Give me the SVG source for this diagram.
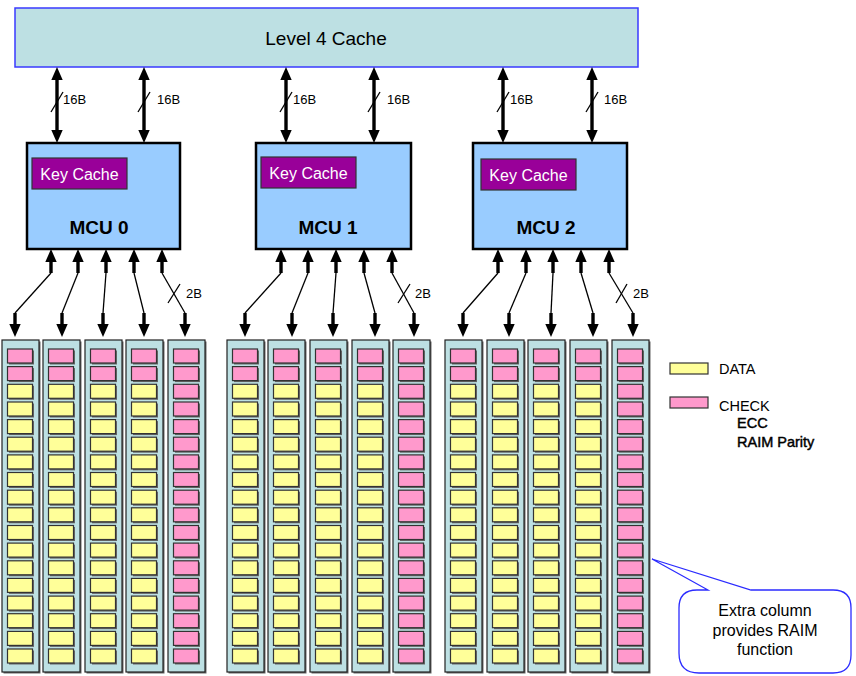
<svg xmlns="http://www.w3.org/2000/svg" xmlns:xlink="http://www.w3.org/1999/xlink" width="856" height="676" viewBox="0 0 856 676">
<style>
text{font-family:"Liberation Sans",Arial,sans-serif;fill:#000}
.l4{fill:#bde0e3;stroke:#3a3aff;stroke-width:1.5}
.mcu{fill:#99ccff;stroke:#000;stroke-width:2.5}
.kc{fill:#990099;stroke:#333;stroke-width:1.2}
.kct{fill:#fff;font-size:16px;text-anchor:middle}
.mt{font-size:19px;font-weight:bold;text-anchor:middle}
.col{fill:#bde0e3;stroke:#222;stroke-width:1.2}
.sh{fill:#666}
.y{fill:#ffff99;stroke:#333;stroke-width:1.2}
.p{fill:#ff99cc;stroke:#333;stroke-width:1.2}
.thick{stroke:#000;stroke-width:3.4;fill:none}
.thin{stroke:#000;stroke-width:1.3;fill:none}
.lab{font-size:13px}
.leg{font-size:14.5px}
.legb{font-size:14.5px;stroke:#000;stroke-width:0.45}
.call{fill:#fff;stroke:#2b2bff;stroke-width:1.3}
.ct{font-size:16px;text-anchor:middle}
</style>
<defs>
<marker id="ah" markerUnits="userSpaceOnUse" markerWidth="13" markerHeight="12" viewBox="0 0 13 12" refX="5" refY="6" orient="auto-start-reverse"><path d="M0,0.3 L13,6 L0,11.7 z" fill="#000"/></marker>
<g id="cy"><rect class="sh" x="7" y="1.5" width="25" height="14"/><rect class="y" x="5.5" y="0" width="25" height="14"/></g>
<g id="cp"><rect class="sh" x="7" y="1.5" width="25" height="14"/><rect class="p" x="5.5" y="0" width="25" height="14"/></g>
<g id="colbg"><rect class="sh" x="1.5" y="1.5" width="37" height="332"/><rect class="col" x="0" y="0" width="37" height="332"/></g>
<g id="dcol">
<use xlink:href="#colbg"/>
<use xlink:href="#cp" y="9"/>
<use xlink:href="#cp" y="26.6"/>
<use xlink:href="#cy" y="44.3"/>
<use xlink:href="#cy" y="62"/>
<use xlink:href="#cy" y="79.6"/>
<use xlink:href="#cy" y="97.2"/>
<use xlink:href="#cy" y="114.9"/>
<use xlink:href="#cy" y="132.5"/>
<use xlink:href="#cy" y="150.2"/>
<use xlink:href="#cy" y="167.8"/>
<use xlink:href="#cy" y="185.5"/>
<use xlink:href="#cy" y="203.1"/>
<use xlink:href="#cy" y="220.8"/>
<use xlink:href="#cy" y="238.4"/>
<use xlink:href="#cy" y="256.1"/>
<use xlink:href="#cy" y="273.7"/>
<use xlink:href="#cy" y="291.4"/>
<use xlink:href="#cy" y="309"/>
</g>
<g id="ccol">
<use xlink:href="#colbg"/>
<use xlink:href="#cp" y="9"/>
<use xlink:href="#cp" y="26.6"/>
<use xlink:href="#cp" y="44.3"/>
<use xlink:href="#cp" y="62"/>
<use xlink:href="#cp" y="79.6"/>
<use xlink:href="#cp" y="97.2"/>
<use xlink:href="#cp" y="114.9"/>
<use xlink:href="#cp" y="132.5"/>
<use xlink:href="#cp" y="150.2"/>
<use xlink:href="#cp" y="167.8"/>
<use xlink:href="#cp" y="185.5"/>
<use xlink:href="#cp" y="203.1"/>
<use xlink:href="#cp" y="220.8"/>
<use xlink:href="#cp" y="238.4"/>
<use xlink:href="#cp" y="256.1"/>
<use xlink:href="#cp" y="273.7"/>
<use xlink:href="#cp" y="291.4"/>
<use xlink:href="#cp" y="309"/>
</g>
</defs>
<rect width="856" height="676" fill="#fff"/>

<g id="l4cache">
<rect class="l4" x="15" y="8" width="623" height="59"/>
<text x="326" y="45" font-size="19" text-anchor="middle">Level 4 Cache</text>
</g>

<g id="mcu0">
<rect class="mcu" x="27" y="143" width="153" height="106"/>
<rect class="kc" x="32" y="158" width="95" height="31"/>
<text class="kct" x="79.5" y="179.5">Key Cache</text>
<text class="mt" x="99" y="234">MCU 0</text>
</g>
<g id="mcu1">
<rect class="mcu" x="256" y="143" width="155" height="106"/>
<rect class="kc" x="261" y="157" width="95" height="31"/>
<text class="kct" x="308.5" y="178.5">Key Cache</text>
<text class="mt" x="328" y="234">MCU 1</text>
</g>
<g id="mcu2">
<rect class="mcu" x="473" y="143" width="154" height="106"/>
<rect class="kc" x="481" y="159" width="95" height="31"/>
<text class="kct" x="528.5" y="180.5">Key Cache</text>
<text class="mt" x="546" y="234">MCU 2</text>
</g>

<g id="bank0">
<use xlink:href="#dcol" x="2" y="340"/>
<use xlink:href="#dcol" x="43" y="340"/>
<use xlink:href="#dcol" x="85" y="340"/>
<use xlink:href="#dcol" x="126" y="340"/>
<use xlink:href="#ccol" x="168" y="340"/>
</g>
<g id="bank1">
<use xlink:href="#dcol" x="227" y="340"/>
<use xlink:href="#dcol" x="268" y="340"/>
<use xlink:href="#dcol" x="310" y="340"/>
<use xlink:href="#dcol" x="352" y="340"/>
<use xlink:href="#ccol" x="393" y="340"/>
</g>
<g id="bank2">
<use xlink:href="#dcol" x="445" y="340"/>
<use xlink:href="#dcol" x="487" y="340"/>
<use xlink:href="#dcol" x="528" y="340"/>
<use xlink:href="#dcol" x="570" y="340"/>
<use xlink:href="#ccol" x="612" y="340"/>
</g>

<g id="connectors">
<line class="thick" x1="57" y1="75" x2="57" y2="135" marker-start="url(#ah)" marker-end="url(#ah)"/>
<line class="thick" x1="144" y1="75" x2="144" y2="135" marker-start="url(#ah)" marker-end="url(#ah)"/>
<line class="thick" x1="286" y1="75" x2="286" y2="135" marker-start="url(#ah)" marker-end="url(#ah)"/>
<line class="thick" x1="374" y1="75" x2="374" y2="135" marker-start="url(#ah)" marker-end="url(#ah)"/>
<line class="thick" x1="503" y1="75" x2="503" y2="135" marker-start="url(#ah)" marker-end="url(#ah)"/>
<line class="thick" x1="592" y1="75" x2="592" y2="135" marker-start="url(#ah)" marker-end="url(#ah)"/>
<line class="thin" x1="51" y1="112" x2="63" y2="92"/>
<line class="thin" x1="138" y1="112" x2="150" y2="92"/>
<line class="thin" x1="280" y1="112" x2="292" y2="92"/>
<line class="thin" x1="368" y1="112" x2="380" y2="92"/>
<line class="thin" x1="497" y1="112" x2="509" y2="92"/>
<line class="thin" x1="586" y1="112" x2="598" y2="92"/>
<text class="lab" x="63" y="104">16B</text>
<text class="lab" x="157" y="104">16B</text>
<text class="lab" x="293" y="104">16B</text>
<text class="lab" x="387" y="104">16B</text>
<text class="lab" x="510" y="104">16B</text>
<text class="lab" x="604" y="104">16B</text>

<g>
<line class="thick" x1="51" y1="273" x2="51" y2="257" marker-end="url(#ah)"/><line class="thin" x1="51" y1="273" x2="15" y2="313"/><line class="thick" x1="15" y1="313" x2="15" y2="329" marker-end="url(#ah)"/>
<line class="thick" x1="78" y1="273" x2="78" y2="257" marker-end="url(#ah)"/><line class="thin" x1="78" y1="273" x2="62" y2="313"/><line class="thick" x1="62" y1="313" x2="62" y2="329" marker-end="url(#ah)"/>
<line class="thick" x1="106" y1="273" x2="106" y2="257" marker-end="url(#ah)"/><line class="thin" x1="106" y1="273" x2="103" y2="313"/><line class="thick" x1="103" y1="313" x2="103" y2="329" marker-end="url(#ah)"/>
<line class="thick" x1="134" y1="273" x2="134" y2="257" marker-end="url(#ah)"/><line class="thin" x1="134" y1="273" x2="144" y2="313"/><line class="thick" x1="144" y1="313" x2="144" y2="329" marker-end="url(#ah)"/>
<line class="thick" x1="162" y1="273" x2="162" y2="257" marker-end="url(#ah)"/><line class="thin" x1="162" y1="273" x2="185" y2="313"/><line class="thick" x1="185" y1="313" x2="185" y2="329" marker-end="url(#ah)"/>
<line class="thin" x1="168" y1="303" x2="180" y2="284"/>
<text class="lab" x="186" y="298">2B</text>
</g>
<g>
<line class="thick" x1="281" y1="273" x2="281" y2="257" marker-end="url(#ah)"/><line class="thin" x1="281" y1="273" x2="245" y2="313"/><line class="thick" x1="245" y1="313" x2="245" y2="329" marker-end="url(#ah)"/>
<line class="thick" x1="308" y1="273" x2="308" y2="257" marker-end="url(#ah)"/><line class="thin" x1="308" y1="273" x2="292" y2="313"/><line class="thick" x1="292" y1="313" x2="292" y2="329" marker-end="url(#ah)"/>
<line class="thick" x1="336" y1="273" x2="336" y2="257" marker-end="url(#ah)"/><line class="thin" x1="336" y1="273" x2="333" y2="313"/><line class="thick" x1="333" y1="313" x2="333" y2="329" marker-end="url(#ah)"/>
<line class="thick" x1="364" y1="273" x2="364" y2="257" marker-end="url(#ah)"/><line class="thin" x1="364" y1="273" x2="375" y2="313"/><line class="thick" x1="375" y1="313" x2="375" y2="329" marker-end="url(#ah)"/>
<line class="thick" x1="392" y1="273" x2="392" y2="257" marker-end="url(#ah)"/><line class="thin" x1="392" y1="273" x2="414" y2="313"/><line class="thick" x1="414" y1="313" x2="414" y2="329" marker-end="url(#ah)"/>
<line class="thin" x1="398" y1="303" x2="410" y2="284"/>
<text class="lab" x="415" y="298">2B</text>
</g>
<g>
<line class="thick" x1="498" y1="273" x2="498" y2="257" marker-end="url(#ah)"/><line class="thin" x1="498" y1="273" x2="463" y2="313"/><line class="thick" x1="463" y1="313" x2="463" y2="329" marker-end="url(#ah)"/>
<line class="thick" x1="526" y1="273" x2="526" y2="257" marker-end="url(#ah)"/><line class="thin" x1="526" y1="273" x2="509" y2="313"/><line class="thick" x1="509" y1="313" x2="509" y2="329" marker-end="url(#ah)"/>
<line class="thick" x1="553" y1="273" x2="553" y2="257" marker-end="url(#ah)"/><line class="thin" x1="553" y1="273" x2="551" y2="313"/><line class="thick" x1="551" y1="313" x2="551" y2="329" marker-end="url(#ah)"/>
<line class="thick" x1="581" y1="273" x2="581" y2="257" marker-end="url(#ah)"/><line class="thin" x1="581" y1="273" x2="593" y2="313"/><line class="thick" x1="593" y1="313" x2="593" y2="329" marker-end="url(#ah)"/>
<line class="thick" x1="609" y1="273" x2="609" y2="257" marker-end="url(#ah)"/><line class="thin" x1="609" y1="273" x2="633" y2="313"/><line class="thick" x1="633" y1="313" x2="633" y2="329" marker-end="url(#ah)"/>
<line class="thin" x1="616" y1="303" x2="627" y2="284"/>
<text class="lab" x="633" y="298">2B</text>
</g>
</g>

<g id="legend">
<rect class="y" x="670" y="363" width="38" height="11"/>
<text class="leg" x="719" y="374">DATA</text>
<rect class="p" x="670" y="397" width="38" height="11"/>
<text class="leg" x="719" y="411">CHECK</text>
<text class="legb" x="737" y="428">ECC</text>
<text class="legb" x="737" y="447">RAIM Parity</text>
</g>

<g id="callout">
<path class="call" d="M697,590 L708,590 L652,559 L751,590 L833,590 Q851,590 851,608 L851,655 Q851,673 833,673 L699,673 Q679,673 679,653 L679,608 Q679,590 697,590 Z"/>
<text class="ct" x="765" y="616">Extra column</text>
<text class="ct" x="765" y="636">provides RAIM</text>
<text class="ct" x="765" y="655">function</text>
</g>
</svg>
